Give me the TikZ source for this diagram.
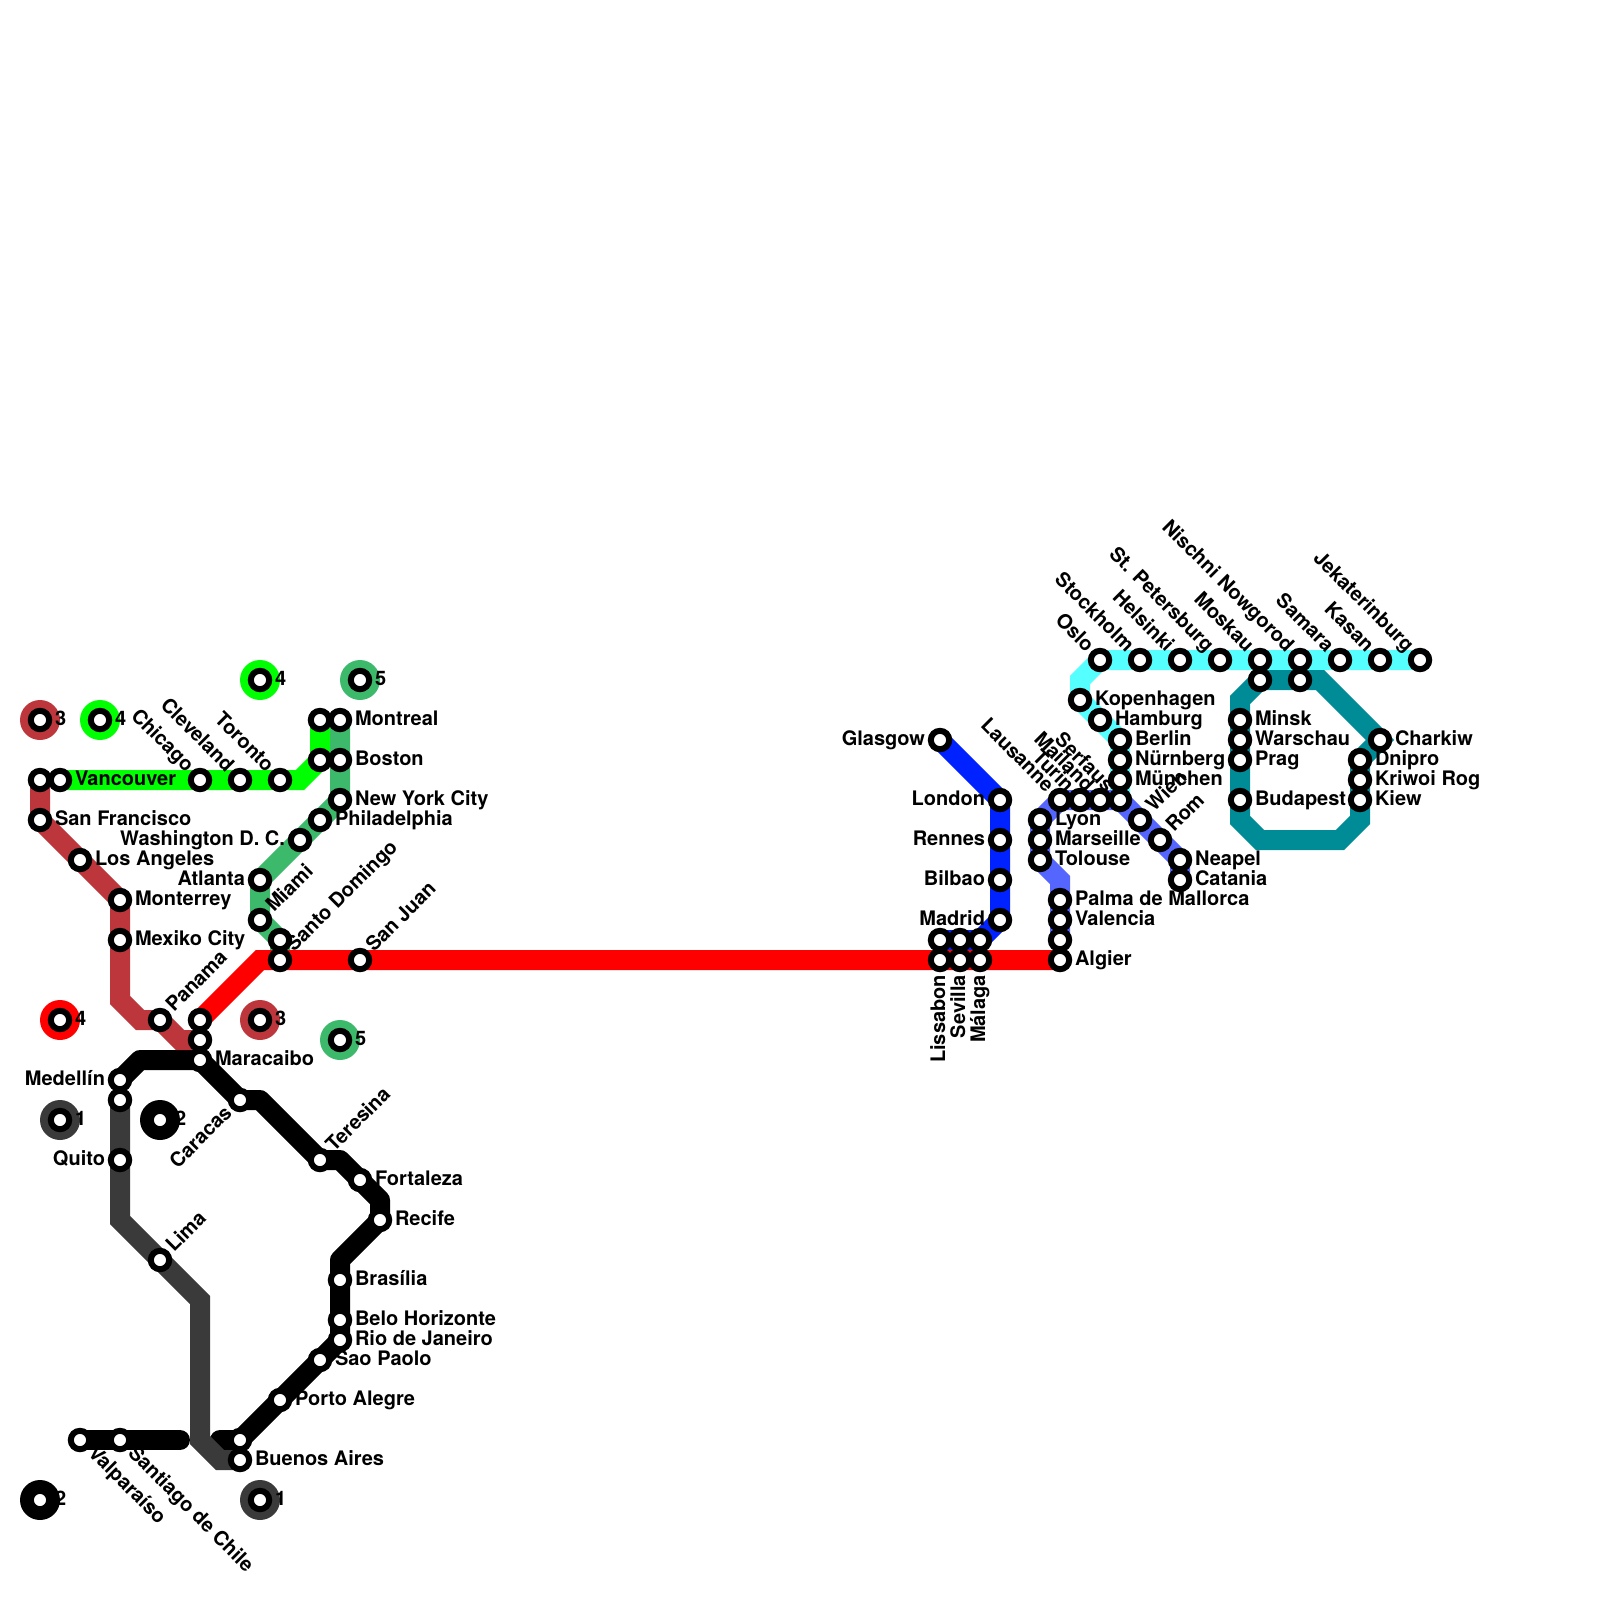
\documentclass[tikz,border=0pt]{standalone}
\usepackage{fontspec}
\setmainfont{TeX Gyre Heros}
\usepackage{xcolor}
\usepackage{tikz}
\usetikzlibrary{backgrounds}
\definecolor{lineblack}{RGB}{0, 0, 0}
\definecolor{linegray}{RGB}{58, 58, 58}
\definecolor{linebrown}{RGB}{189, 54, 60}
\definecolor{linelime}{RGB}{0, 255, 0}
\definecolor{linegreen}{RGB}{60, 185, 106}
\definecolor{linered}{RGB}{255, 0, 0}
\definecolor{lineblue}{RGB}{0, 34, 255}
\definecolor{lineviolet}{RGB}{85, 102, 255}
\definecolor{linecyan}{RGB}{85, 255, 255}
\definecolor{lineteal}{RGB}{0, 140, 150}
\tikzset{
    stop/.style={circle, draw=black, fill=white, line width=0.15cm, minimum size=0.46cm, inner sep=0pt, outer sep=0pt},
    keydisc/.style={circle, minimum size=1cm, inner sep=0pt, outer sep=0pt},
    track/.style={draw, line width=0.5cm},
    blacktrack/.style={track, color=lineblack, line cap=round, line join=round},
    stoptext/.style={font=\bfseries\fontsize{14.23}{14.23}\selectfont, inner sep=0pt, outer sep=0pt},
    toE/.style={stoptext, xshift=0.375cm, yshift=-0.125cm, anchor=base west},
    toW/.style={stoptext, xshift=-0.375cm, yshift=-0.125cm, anchor=base east},
    toNE/.style={stoptext, xshift=0.354cm, yshift=0.177cm, rotate=45, anchor=base west},
    toSW/.style={stoptext, xshift=-0.177cm, yshift=-0.354cm, rotate=45, anchor=base east},
    toNW/.style={stoptext, xshift=-0.354cm, yshift=0.177cm, rotate=-45, anchor=base east},
    toSE/.style={stoptext, xshift=0.177cm, yshift=-0.354cm, rotate=-45, anchor=base west},
    toS/.style={stoptext, xshift=0.125cm, yshift=-0.375cm, rotate=90, anchor=base east}
}
\begin{document}
\begin{tikzpicture}[x=0.5cm, y=-0.5cm]
        \useasboundingbox (0,0) rectangle (80,80);

        % Legend
        \node [keydisc, fill=linebrown] (keybrownA) at (2,36) {};
        \node [keydisc, fill=linelime] (keylimeA) at (5,36) {};
        \node [keydisc, fill=linelime] (keylimeB) at (13,34) {};
        \node [keydisc, fill=linegreen] (keygreenA) at (18,34) {};
        \node [keydisc, fill=linered] (keyredA) at (3,51) {};
        \node [keydisc, fill=linebrown] (keybrownB) at (13,51) {};
        \node [keydisc, fill=linegreen] (keygreenB) at (17,52) {};
        \node [keydisc, fill=linegray] (keygrayA) at (3,56) {};
        \node [keydisc, fill=lineblack] (keyblackA) at (8,56) {};
        \node [keydisc, fill=lineblack] (keyblackB) at (2,75) {};
        \node [keydisc, fill=linegray] (keygrayB) at (13,75) {};
        \node [stop] (numbrownA) at (2,36) {};
        \node [stop] (numlimeA) at (5,36) {};
        \node [stop] (numlimeB) at (13,34) {};
        \node [stop] (numgreenA) at (18,34) {};
        \node [stop] (numredA) at (3,51) {};
        \node [stop] (numbrownB) at (13,51) {};
        \node [stop] (numgreenB) at (17,52) {};
        \node [stop] (numgrayA) at (3,56) {};
        \node [stop] (numblackA) at (8,56) {};
        \node [stop] (numblackB) at (2,75) {};
        \node [stop] (numgrayB) at (13,75) {};

        % North America
        \node [stop] (northwest) at (2,39) {};
        \node [stop] (vancouver) at (3,39) {};
        \node [stop] (sanfrancisco) at (2,41) {};
        \node [stop] (losangeles) at (4,43) {};
        \node [stop] (monterrey) at (6,45) {};
        \node [stop] (mexikocity) at (6,47) {};
        \node [stop] (panama) at (8,51) {};
        \node [stop] (brownend) at (10,52) {};
        \node [stop] (chicago) at (10,39) {};
        \node [stop] (cleveland) at (12,39) {};
        \node [stop] (toronto) at (14,39) {};
        \node [stop] (limeboston) at (16,38) {};
        \node [stop] (limemontreal) at (16,36) {};
        \node [stop] (montreal) at (17,36) {};
        \node [stop] (boston) at (17,38) {};
        \node [stop] (newyork) at (17,40) {};
        \node [stop] (philadelphia) at (16,41) {};
        \node [stop] (washington) at (15,42) {};
        \node [stop] (atlanta) at (13,44) {};
        \node [stop] (miami) at (13,46) {};
        \node [stop] (greenend) at (14,47) {};

        % Atlantic
        \node [stop] (redstart) at (10,51) {};
        \node [stop] (santodomingo) at (14,48) {};
        \node [stop] (sanjuan) at (18,48) {};
        \node [stop] (lissabon) at (47,48) {};
        \node [stop] (sevilla) at (48,48) {};
        \node [stop] (malaga) at (49,48) {};
        \node [stop] (algier) at (53,48) {};

        % South America
        \node [stop] (medellin) at (6,54) {};
        \node [stop] (grayend) at (6,55) {};
        \node [stop] (quito) at (6,58) {};
        \node [stop] (lima) at (8,63) {};
        \node [stop] (maracaibo) at (10,53) {};
        \node [stop] (caracas) at (12,55) {};
        \node [stop] (teresina) at (16,58) {};
        \node [stop] (fortaleza) at (18,59) {};
        \node [stop] (recife) at (19,61) {};
        \node [stop] (brasilia) at (17,64) {};
        \node [stop] (belohorizonte) at (17,66) {};
        \node [stop] (riodejaneiro) at (17,67) {};
        \node [stop] (saopaolo) at (16,68) {};
        \node [stop] (portoalegre) at (14,70) {};
        \node [stop] (blackend) at (12,72) {};
        \node [stop] (buenosaires) at (12,73) {};
        \node [stop] (valparaiso) at (4,72) {};
        \node [stop] (santiago) at (6,72) {};

        % Western Europe
        \node [stop] (glasgow) at (47,37) {};
        \node [stop] (london) at (50,40) {};
        \node [stop] (rennes) at (50,42) {};
        \node [stop] (bilbao) at (50,44) {};
        \node [stop] (madrid) at (50,46) {};
        \node [stop] (blueA) at (49,47) {};
        \node [stop] (blueB) at (48,47) {};
        \node [stop] (blueC) at (47,47) {};
        \node [stop] (lausanne) at (53,40) {};
        \node [stop] (turin) at (54,40) {};
        \node [stop] (mailand) at (55,40) {};
        \node [stop] (serfaus) at (56,40) {};
        \node [stop] (wien) at (57,41) {};
        \node [stop] (rom) at (58,42) {};
        \node [stop] (neapel) at (59,43) {};
        \node [stop] (catania) at (59,44) {};
        \node [stop] (lyon) at (52,41) {};
        \node [stop] (marseille) at (52,42) {};
        \node [stop] (tolouse) at (52,43) {};
        \node [stop] (palma) at (53,45) {};
        \node [stop] (valencia) at (53,46) {};
        \node [stop] (violetend) at (53,47) {};

        % Northern and Eastern Europe
        \node [stop] (oslo) at (55,33) {};
        \node [stop] (stockholm) at (57,33) {};
        \node [stop] (helsinki) at (59,33) {};
        \node [stop] (petersburg) at (61,33) {};
        \node [stop] (moskau) at (63,33) {};
        \node [stop] (nowgorod) at (65,33) {};
        \node [stop] (samara) at (67,33) {};
        \node [stop] (kasan) at (69,33) {};
        \node [stop] (jekaterinburg) at (71,33) {};
        \node [stop] (kopenhagen) at (54,35) {};
        \node [stop] (hamburg) at (55,36) {};
        \node [stop] (berlin) at (56,37) {};
        \node [stop] (nurnberg) at (56,38) {};
        \node [stop] (munchen) at (56,39) {};
        \node [stop] (tealmoskau) at (63,34) {};
        \node [stop] (tealnowgorod) at (65,34) {};
        \node [stop] (minsk) at (62,36) {};
        \node [stop] (warschau) at (62,37) {};
        \node [stop] (prag) at (62,38) {};
        \node [stop] (budapest) at (62,40) {};
        \node [stop] (kiew) at (68,40) {};
        \node [stop] (kriwoirog) at (68,39) {};
        \node [stop] (dnipro) at (68,38) {};
        \node [stop] (charkiw) at (69,37) {};

        % Labels
        \foreach \stopname/\stoplabel in {numbrownA/3, numlimeA/4, numlimeB/4, numgreenA/5, numredA/4, numbrownB/3, numgreenB/5, numgrayA/1, numblackA/2, numblackB/2, numgrayB/1,
            vancouver/Vancouver, sanfrancisco/San Francisco, losangeles/Los Angeles, monterrey/Monterrey, mexikocity/Mexiko City, montreal/Montreal, boston/Boston, newyork/New York City, philadelphia/Philadelphia,
            algier/Algier, maracaibo/Maracaibo, fortaleza/Fortaleza, recife/Recife, brasilia/Brasília, belohorizonte/Belo Horizonte, riodejaneiro/Rio de Janeiro, saopaolo/Sao Paolo, portoalegre/Porto Alegre, buenosaires/Buenos Aires,
            neapel/Neapel, catania/Catania, lyon/Lyon, marseille/Marseille, tolouse/Tolouse, palma/Palma de Mallorca, valencia/Valencia,
            kopenhagen/Kopenhagen, hamburg/Hamburg, berlin/Berlin, nurnberg/Nürnberg, munchen/München, minsk/Minsk, warschau/Warschau, prag/Prag, budapest/Budapest, kiew/Kiew, kriwoirog/Kriwoi Rog, dnipro/Dnipro, charkiw/Charkiw}
            \node [toE] (\stopname-text) at (\stopname) {\stoplabel};
        \foreach \stopname/\stoplabel in {washington/Washington D. C., atlanta/Atlanta, medellin/Medellín, quito/Quito, glasgow/Glasgow, london/London, rennes/Rennes, bilbao/Bilbao, madrid/Madrid}
            \node [toW] (\stopname-text) at (\stopname) {\stoplabel};
        \foreach \stopname/\stoplabel in {panama/Panama, miami/Miami, santodomingo/Santo Domingo, sanjuan/San Juan, lima/Lima, teresina/Teresina, wien/Wien, rom/Rom}
            \node [toNE] (\stopname-text) at (\stopname) {\stoplabel};
        \foreach \stopname/\stoplabel in {chicago/Chicago, cleveland/Cleveland, toronto/Toronto, lausanne/Lausanne, turin/Turin, mailand/Mailand, serfaus/Serfaus,
            oslo/Oslo, stockholm/Stockholm, helsinki/Helsinki, petersburg/St. Petersburg, moskau/Moskau, nowgorod/Nischni Nowgorod, samara/Samara, kasan/Kasan, jekaterinburg/Jekaterinburg}
            \node [toNW] (\stopname-text) at (\stopname) {\stoplabel};
        \node [toSW] (caracas-text) at (caracas) {Caracas};
        \node [toSE] (valparaiso-text) at (valparaiso) {Valparaíso};
        \node [toSE] (santiago-text) at (santiago) {Santiago de Chile};
        \node [toS] (lissabon-text) at (lissabon) {Lissabon};
        \node [toS] (sevilla-text) at (sevilla) {Sevilla};
        \node [toS] (malaga-text) at (malaga) {Málaga};

        % Bends
        \coordinate (limebend) at (15,39);
        \coordinate (brownbendA) at (6,50);
        \coordinate (brownbendB) at (7,51);
        \coordinate (brownbendC) at (9,52);
        \coordinate (redbend) at (13,48);
        \coordinate (graybendA) at (6,61);
        \coordinate (graybendB) at (10,65);
        \coordinate (graybendC) at (10,72);
        \coordinate (graybendD) at (11,73);
        \coordinate (blackbendA) at (7,53);
        \coordinate (blackbendB) at (13,55);
        \coordinate (blackbendC) at (17,58);
        \coordinate (blackbendD) at (19,60);
        \coordinate (blackbendE) at (17,63);
        \coordinate (blackstub) at (9,72);
        \coordinate (blackstart) at (11,72);
        \coordinate (violetbendA) at (53,44);
        \coordinate (cyanbend) at (54,34);
        \coordinate (tealbendA) at (62,35);
        \coordinate (tealbendB) at (62,41);
        \coordinate (tealbendC) at (63,42);
        \coordinate (tealbendD) at (67,42);
        \coordinate (tealbendE) at (68,41);
        \coordinate (tealbendF) at (66,34);

        % Paths
        \begin{scope}[on background layer]
        \draw [blacktrack] (medellin.center) -- (blackbendA) -- (maracaibo.center) -- (caracas.center) -- (blackbendB) -- (teresina.center) -- (blackbendC) -- (fortaleza.center) -- (blackbendD) -- (recife.center) -- (blackbendE) -- (brasilia.center) -- (belohorizonte.center) -- (riodejaneiro.center) -- (saopaolo.center) -- (portoalegre.center) -- (blackend.center) -- (blackstart);
        \draw [blacktrack] (valparaiso.center) -- (santiago.center) -- (blackstub);
        \draw [track, color=linegray] (grayend.center) -- (quito.center) -- (graybendA) -- (lima.center) -- (graybendB) -- (graybendC) -- (graybendD) -- (buenosaires.center);
        \draw [track, color=linebrown] (northwest.center) -- (sanfrancisco.center) -- (losangeles.center) -- (monterrey.center) -- (mexikocity.center) -- (brownbendA) -- (brownbendB) -- (panama.center) -- (brownbendC) -- (brownend.center);
        \draw [track, color=linelime] (vancouver.center) -- (chicago.center) -- (cleveland.center) -- (toronto.center) -- (limebend) -- (limeboston.center) -- (limemontreal.center);
        \draw [track, color=linegreen] (montreal.center) -- (boston.center) -- (newyork.center) -- (philadelphia.center) -- (washington.center) -- (atlanta.center) -- (miami.center) -- (greenend.center) -- (santodomingo.center);
        \draw [track, color=lineblue] (glasgow.center) -- (london.center) -- (rennes.center) -- (bilbao.center) -- (madrid.center) -- (blueA.center) -- (blueB.center) -- (blueC.center);
        \draw [track, color=linecyan] (jekaterinburg.center) -- (oslo.center) -- (cyanbend) -- (kopenhagen.center) -- (berlin.center) -- (nurnberg.center) -- (munchen.center) -- (serfaus.center);
        \draw [track, color=lineviolet] (catania.center) -- (neapel.center) -- (rom.center) -- (wien.center) -- (serfaus.center) -- (mailand.center) -- (turin.center) -- (lausanne.center) -- (lyon.center) -- (marseille.center) -- (tolouse.center) -- (violetbendA) -- (palma.center) -- (valencia.center) -- (violetend.center);
        \draw [track, color=lineteal] (tealmoskau.center) -- (tealbendA) -- (minsk.center) -- (budapest.center) -- (tealbendB) -- (tealbendC) -- (tealbendD) -- (tealbendE) -- (kiew.center) -- (dnipro.center) -- (charkiw.center) -- (tealbendF) -- (tealmoskau.center);
        \draw [track, color=linered] (redstart.center) -- (redbend) -- (algier.center);
        \end{scope}

    \end{tikzpicture}
\end{document}
